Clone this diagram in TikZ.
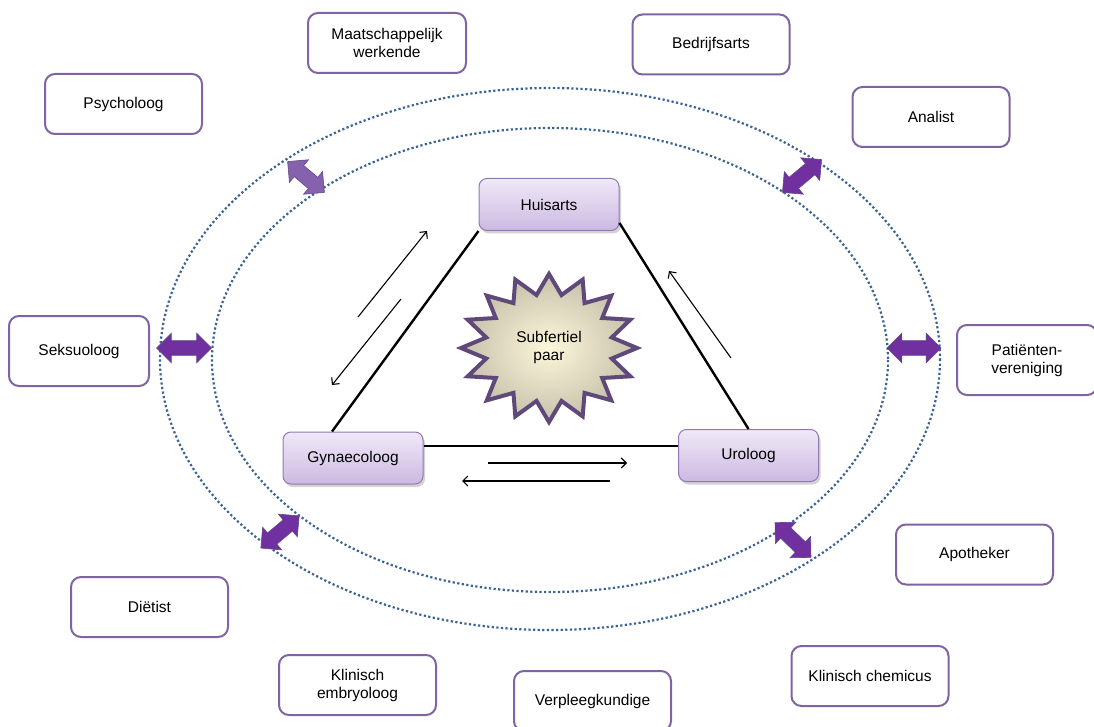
\documentclass[tikz,border=0pt]{standalone}
\usepackage{fontspec}
\setmainfont{Liberation Sans}
\usetikzlibrary{shapes.arrows,shadows,arrows.meta}
\definecolor{boxline}{HTML}{8064A2}
\definecolor{nodetop}{HTML}{F0E9F8}
\definecolor{nodebot}{HTML}{CCB9E1}
\definecolor{nodeline}{HTML}{9079B4}
\definecolor{ringblue}{HTML}{3A6294}
\definecolor{arrowfill}{HTML}{7030A0}
\definecolor{arrowsoft}{HTML}{8661AE}
\definecolor{arrowline}{HTML}{5F4A8A}
\definecolor{burstline}{HTML}{5F497A}
\definecolor{burstin}{HTML}{FCF6DA}
\definecolor{burstout}{HTML}{C7C1AB}
\begin{document}
\begin{tikzpicture}[x=1pt,y=-1pt,>={Straight Barb[length=5pt,width=10pt]}]

\tikzset{%
every party/.style={
rectangle,
rounded corners=10pt,
draw=boxline,
line width=2pt,
fill=white,
minimum width=157pt,
minimum height=60pt,
align=center,
font=\fontsize{15.5}{18}\selectfont
},
every doctor/.style={
rectangle,
rounded corners=8pt,
draw=nodeline,
line width=1pt,
top color=nodetop,
bottom color=nodebot,
drop shadow={opacity=0.35,shadow xshift=2pt,shadow yshift=-3pt},
minimum width=140pt,
minimum height=52pt,
font=\fontsize{15.5}{18}\selectfont
},
ring/.style={
draw=ringblue,
line width=2.2pt,
dash pattern=on 2.2pt off 2.4pt
},
link/.style={
draw=arrowline,
line width=0.6pt,
fill=arrowfill,
double arrow,
double arrow head extend=7.5pt,
double arrow head indent=0pt,
inner xsep=0pt,
inner ysep=7pt
},
}

\useasboundingbox (0,0) rectangle (1094,727);

% Two dotted rings
\draw [ring] (550,359) ellipse [x radius=390, y radius=271];
\draw [ring] (550,360) ellipse [x radius=338, y radius=232];

% Outer ring of care providers
\foreach \n/\x/\y/\w/\h/\t in {
psy/123.5/104/157/60/Psycholoog,
maat/387/43/158/60/Maatschappelijk\\werkende,
bedr/711/44.5/157/60/Bedrijfsarts,
anal/931/117/157/60/Analist,
seks/79/351/140/70/Seksuoloog,
pati/1027/360/140/70/Patiënten-\\vereniging,
apot/974.5/554.5/157/60/Apotheker,
chem/870/676/157/60/Klinisch chemicus,
verp/592.5/701/157/60/Verpleegkundige,
embr/357.5/685/157/60/Klinisch\\embryoloog,
diet/149.5/607/157/60/Diëtist}
\node [every party/.try, minimum width=\w pt, minimum height=\h pt] (\n) at (\x,\y) {\t};

% Links between the two rings
\foreach \n/\x/\y/\a/\l/\c in {
ul/306/177/-40/48/arrowsoft,
ur/802/176/40/51/arrowfill,
le/184/348/0/55/arrowfill,
ri/914/348/0/54/arrowfill,
ll/280/532/40/50/arrowfill,
lr/793/540/-44/50/arrowfill}
\node [link, fill=\c, minimum height=\l pt, rotate=\a] (link-\n) at (\x,\y) {};

% Subfertile couple in the middle
\begin{scope}[shift={(549,348)}]
\draw [burstline, line width=4pt, line join=miter, inner color=burstin, outer color=burstout]
(90:88 and 74) \foreach \k in {1,...,16} {
-- ({78.75+22.5*\k}:64 and 54) -- ({90+22.5*\k}:88 and 74) } -- cycle;
\end{scope}
\node [align=center, font=\fontsize{15.5}{18}\selectfont] (couple) at (549,347) {Subfertiel\\paar};

% Triangle of doctors
\node [every doctor/.try] (huis) at (549,204.5) {Huisarts};
\node [every doctor/.try] (gyn) at (353,458) {Gynaecoloog};
\node [every doctor/.try] (uro) at (748.5,455.5) {Uroloog};

\draw [line width=2.4pt] (huis.south west) -- ([xshift=-21pt]gyn.north);
\draw [line width=2.4pt] ([yshift=8pt]huis.south east) -- (uro.north);
\draw [line width=2.4pt] ([yshift=12pt]gyn.east) -- ([yshift=9.5pt]uro.west);

% Thin arrows along the sides
\coordinate (gh-a) at (358,317);
\coordinate (gh-b) at (427,231);
\coordinate (hg-a) at (401,299);
\coordinate (hg-b) at (332,385);
\coordinate (uh-a) at (731,358);
\coordinate (uh-b) at (669,271);
\coordinate (gu-a) at (488,463);
\coordinate (gu-b) at (627,463);
\coordinate (ug-a) at (610,481);
\coordinate (ug-b) at (462,481);

\foreach \s/\e in {gh-a/gh-b, hg-a/hg-b, uh-a/uh-b, gu-a/gu-b, ug-a/ug-b}
\draw [->, line width=1.1pt] (\s) -- (\e);

\end{tikzpicture}
\end{document}
